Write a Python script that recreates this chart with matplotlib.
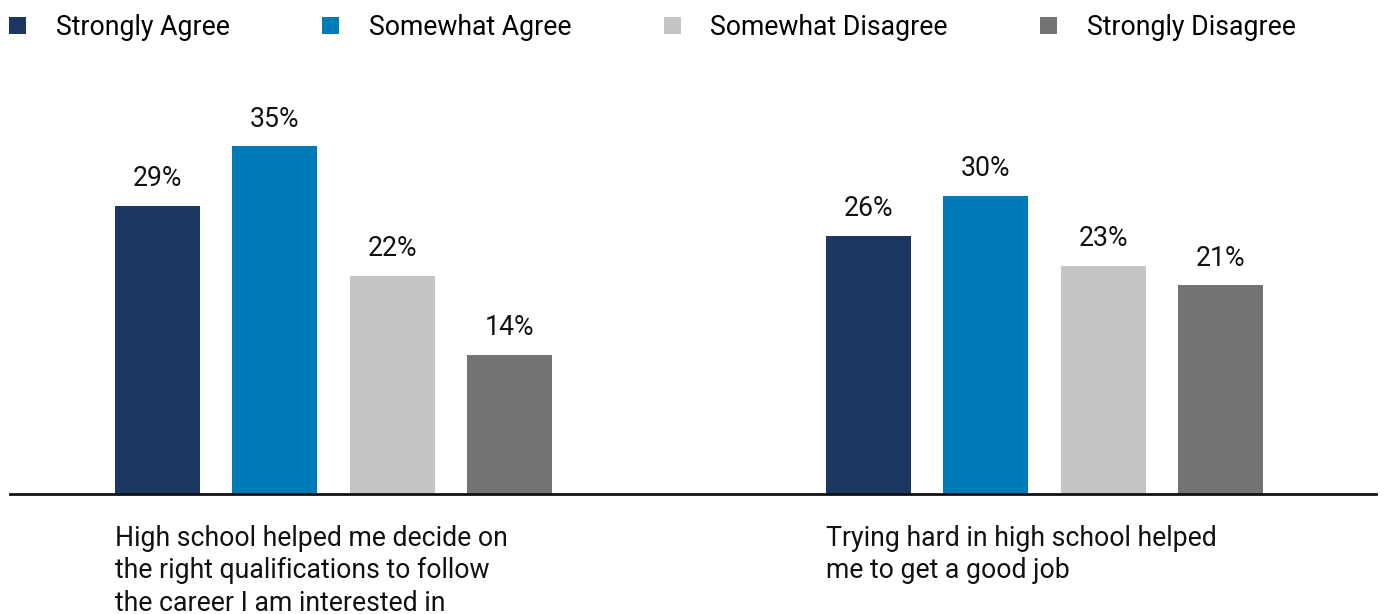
import matplotlib
matplotlib.use("Agg")
import matplotlib.pyplot as plt
from matplotlib.patches import Patch
from matplotlib.transforms import blended_transform_factory
from matplotlib.font_manager import FontProperties
import numpy as np

plt.rcParams['font.family'] = ['Roboto', 'DejaVu Sans']

series = ["Strongly Agree", "Somewhat Agree", "Somewhat Disagree", "Strongly Disagree"]
colors = ["#1B3762", "#007BB9", "#C4C4C4", "#737373"]
categories = ["High school helped me decide on\nthe right qualifications to follow\nthe career I am interested in",
              "Trying hard in high school helped\nme to get a good job"]
values = {
    "Strongly Agree": [29, 26],
    "Somewhat Agree": [35, 30],
    "Somewhat Disagree": [22, 23],
    "Strongly Disagree": [14, 21],
}

W, H = 1384, 614
FS = 19.2
fig = plt.figure(figsize=(W / 100, H / 100), dpi=100)
ax_left, ax_right = 10, 1376
ax_bottom_px = H - 494
ax_top_px = H - 100
ax = fig.add_axes([ax_left / W, ax_bottom_px / H, (ax_right - ax_left) / W, (ax_top_px - ax_bottom_px) / H])

group_dist = 711.0
pitch = 117.5 / group_dist
width = 85 / group_dist
g1_center = 333.5
x = np.arange(len(categories))
offsets = (np.arange(len(series)) - 1.5) * pitch

for i, s in enumerate(series):
    bars = ax.bar(x + offsets[i], values[s], width=width, color=colors[i], label=s, zorder=2)
    for rect, v in zip(bars, values[s]):
        ax.annotate(f"{v}%", (rect.get_x() + rect.get_width() / 2, rect.get_height()),
                    xytext=(0, 10), textcoords="offset points", ha="center", va="bottom",
                    fontsize=FS, color="#111111")

ax.set_xlim((ax_left - g1_center) / group_dist, (ax_right - g1_center) / group_dist)
ax.set_ylim(0, (ax_top_px - ax_bottom_px) / 9.93)

for sp in ["top", "right", "left"]:
    ax.spines[sp].set_visible(False)
ax.spines["bottom"].set_linewidth(2)
ax.spines["bottom"].set_color("#111111")
ax.set_xticks([])
ax.set_yticks([])

# line spacing so that baselines are ~32.5 px apart; first baseline at ~545.5 px
renderer = fig.canvas.get_renderer()
fp = FontProperties(family=['Roboto', 'DejaVu Sans'], size=FS)
_, lp_h, lp_d = renderer.get_text_width_height_descent("lp", fp, ismath=False)
ls = (32.5 - lp_d) / (lp_h - lp_d)
top_px = 545.5 - (lp_h - lp_d)

trans = blended_transform_factory(ax.transData, fig.transFigure)
for xi, cat in zip(x, categories):
    ax.text(xi + offsets[0] - width / 2, (H - top_px) / H, cat, transform=trans,
            ha="left", va="top", fontsize=FS, linespacing=ls, color="#111111")

handles = [Patch(facecolor=c, edgecolor="none", label=s) for s, c in zip(series, colors)]
fig.legend(handles=handles, loc="upper left", bbox_to_anchor=(9 / W, 1 - 14 / H), ncol=4,
           frameon=False, fontsize=FS, handlelength=0.63, handleheight=0.63,
           handletextpad=1.12, columnspacing=3.47, borderpad=0, borderaxespad=0)

fig.savefig("out.png", dpi=100)
